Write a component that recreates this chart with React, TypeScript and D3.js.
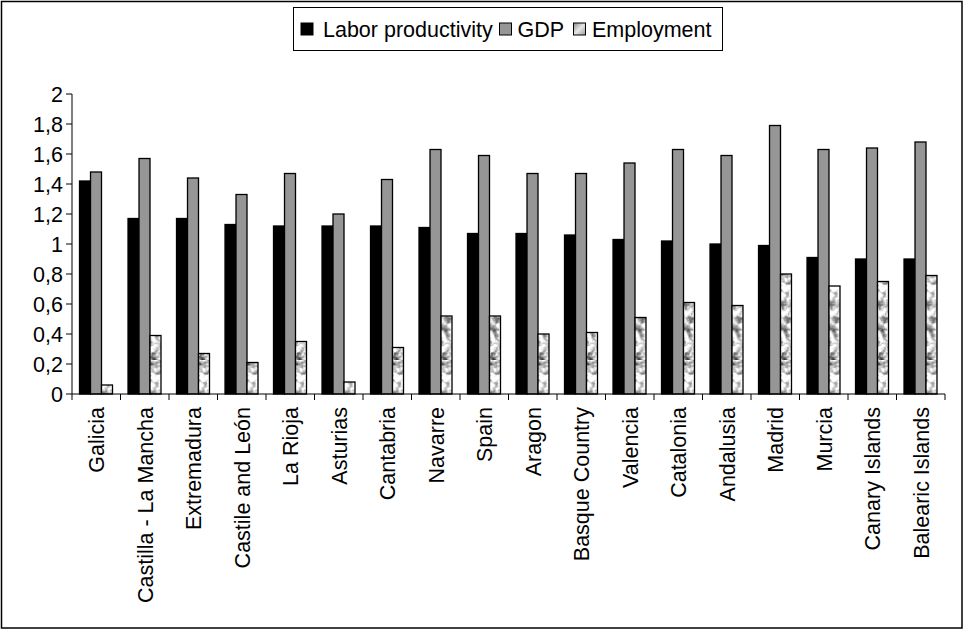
import React from "react";
import * as d3 from "d3";

// Regions, ordered by labor productivity
const regions: string[] = [
  "Galicia",
  "Castilla - La Mancha",
  "Extremadura",
  "Castile and León",
  "La Rioja",
  "Asturias",
  "Cantabria",
  "Navarre",
  "Spain",
  "Aragon",
  "Basque Country",
  "Valencia",
  "Catalonia",
  "Andalusia",
  "Madrid",
  "Murcia",
  "Canary Islands",
  "Balearic Islands",
];

const laborProductivity: number[] = [
  1.42, 1.17, 1.17, 1.13, 1.12, 1.12, 1.12, 1.11, 1.07, 1.07, 1.06, 1.03, 1.02,
  1.0, 0.99, 0.91, 0.9, 0.9,
];
const gdp: number[] = [
  1.48, 1.57, 1.44, 1.33, 1.47, 1.2, 1.43, 1.63, 1.59, 1.47, 1.47, 1.54, 1.63,
  1.59, 1.79, 1.63, 1.64, 1.68,
];
const employment: number[] = [
  0.06, 0.39, 0.27, 0.21, 0.35, 0.08, 0.31, 0.52, 0.52, 0.4, 0.41, 0.51, 0.61,
  0.59, 0.8, 0.72, 0.75, 0.79,
];

const seriesNames: string[] = ["Labor productivity", "GDP", "Employment"];
const yTicks: number[] = [0, 0.2, 0.4, 0.6, 0.8, 1, 1.2, 1.4, 1.6, 1.8, 2];

const W = 964;
const H = 630;
const FONT = "'Liberation Sans', Arial, Helvetica, sans-serif";
const FS = 21.5;

const plot = { left: 72, right: 945, top: 94, bottom: 394 };

const fills = ["#000000", "#969696", "url(#marble)"];

export default function App() {
  const x = d3
    .scaleBand<string>()
    .domain(regions)
    .range([plot.left, plot.right])
    .paddingInner(0)
    .paddingOuter(0);
  const bw = x.bandwidth();
  const xs = d3
    .scaleBand<string>()
    .domain(seriesNames)
    .range([bw * 0.155, bw * 0.835])
    .padding(0);
  const y = d3.scaleLinear().domain([0, 2]).range([plot.bottom, plot.top]);

  const values = [laborProductivity, gdp, employment];
  const fmt = (v: number) => d3.format("~g")(v).replace(".", ",");

  const boundaries = [...regions.map((r) => x(r)!), plot.right];

  // legend layout
  const legendItems = [
    { name: seriesNames[0], sw: 301, tx: 323 },
    { name: seriesNames[1], sw: 499.5, tx: 517.5 },
    { name: seriesNames[2], sw: 573.5, tx: 592 },
  ];

  return (
    <svg
      width={W}
      height={H}
      style={{ position: "absolute", left: 0, top: 0, display: "block" }}
      fontFamily={FONT}
    >
      <defs>
        <filter
          id="marbleF"
          x="0"
          y="0"
          width="1"
          height="1"
          colorInterpolationFilters="sRGB"
        >
          <feTurbulence
            type="fractalNoise"
            baseFrequency="0.13"
            numOctaves="3"
            seed="7"
          />
          <feColorMatrix
            type="matrix"
            values="2.0 0 0 0 -0.17  2.0 0 0 0 -0.17  2.0 0 0 0 -0.17  0 0 0 0 1"
          />
        </filter>
        <pattern
          id="marble"
          patternUnits="userSpaceOnUse"
          width="90"
          height="90"
        >
          <rect width="90" height="90" fill="#d0d0d0" filter="url(#marbleF)" />
        </pattern>
        <linearGradient id="legendEmp" x1="0" y1="0" x2="1" y2="1">
          <stop offset="0" stopColor="#8a8a8a" />
          <stop offset="0.5" stopColor="#e6e6e6" />
          <stop offset="1" stopColor="#9a9a9a" />
        </linearGradient>
      </defs>

      <rect x={0} y={0} width={W} height={H} fill="#ffffff" />
      <rect
        x={1.5}
        y={1.5}
        width={960.5}
        height={626.5}
        fill="none"
        stroke="#000"
        strokeWidth={1.5}
      />

      {/* bars */}
      {regions.map((r, i) => (
        <g key={r} transform={`translate(${x(r)},0)`}>
          {seriesNames.map((s, k) => (
            <rect
              key={s}
              x={xs(s)}
              y={y(values[k][i])}
              width={xs.bandwidth()}
              height={y(0) - y(values[k][i])}
              fill={fills[k]}
              stroke="#000"
              strokeWidth={1.3}
            />
          ))}
        </g>
      ))}

      {/* y axis */}
      <line
        x1={plot.left}
        x2={plot.left}
        y1={plot.top}
        y2={plot.bottom}
        stroke="#000"
        strokeWidth={1}
      />
      {yTicks.map((t) => (
        <g key={t}>
          <line
            x1={plot.left - 6}
            x2={plot.left}
            y1={y(t)}
            y2={y(t)}
            stroke="#000"
            strokeWidth={1}
          />
          <text
            x={plot.left - 9}
            y={y(t)}
            dy="0.36em"
            textAnchor="end"
            fontSize={FS}
            fill="#000"
          >
            {fmt(t)}
          </text>
        </g>
      ))}

      {/* x axis */}
      <line
        x1={plot.left}
        x2={plot.right}
        y1={plot.bottom}
        y2={plot.bottom}
        stroke="#000"
        strokeWidth={1}
      />
      {boundaries.map((b, i) => (
        <line
          key={i}
          x1={b}
          x2={b}
          y1={plot.bottom}
          y2={plot.bottom + 6}
          stroke="#000"
          strokeWidth={1}
        />
      ))}
      {regions.map((r) => (
        <text
          key={r}
          transform={`translate(${x(r)! + bw / 2},${plot.bottom + 13}) rotate(-90)`}
          dy="0.36em"
          textAnchor="end"
          fontSize={FS}
          fill="#000"
        >
          {r}
        </text>
      ))}

      {/* legend */}
      <rect
        x={293.5}
        y={7.5}
        width={429}
        height={43}
        fill="#fff"
        stroke="#000"
        strokeWidth={1}
      />
      {legendItems.map((it, k) => (
        <g key={it.name}>
          <rect
            x={it.sw}
            y={23}
            width={12}
            height={12}
            fill={k === 2 ? "url(#legendEmp)" : fills[k]}
            stroke="#000"
            strokeWidth={1}
          />
          <text x={it.tx} y={29} dy="0.36em" fontSize={FS} fill="#000">
            {it.name}
          </text>
        </g>
      ))}
    </svg>
  );
}
